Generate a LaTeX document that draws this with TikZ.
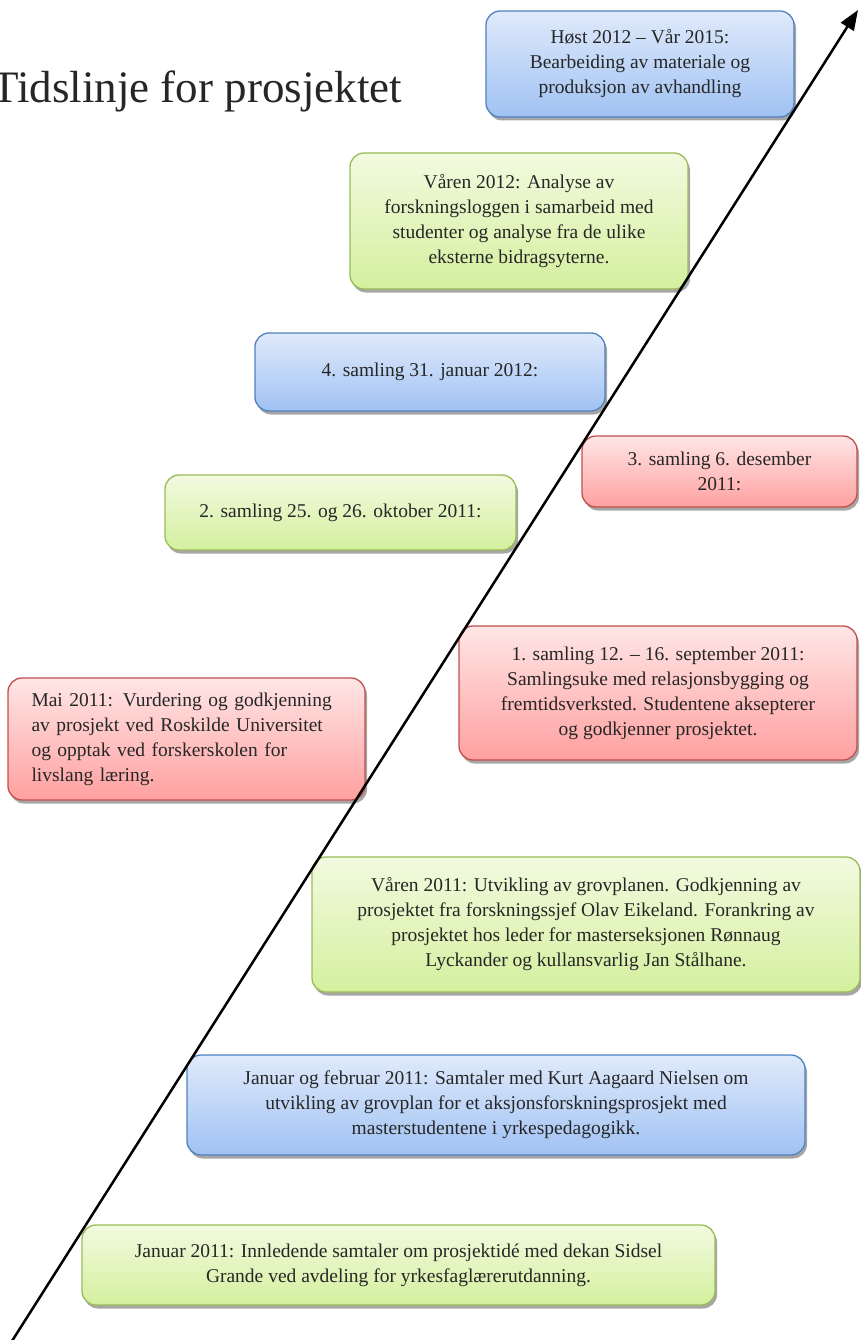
\documentclass[tikz,border=0pt]{standalone}
\usepackage{fontspec}
\setmainfont{Liberation Serif}
\usetikzlibrary{arrows.meta,shadows}
\definecolor{blueT}{RGB}{224,234,251}
\definecolor{blueB}{RGB}{160,194,243}
\definecolor{blueL}{RGB}{79,129,189}
\definecolor{greenT}{RGB}{242,250,224}
\definecolor{greenB}{RGB}{212,240,158}
\definecolor{greenL}{RGB}{155,187,89}
\definecolor{redT}{RGB}{255,230,230}
\definecolor{redB}{RGB}{255,160,160}
\definecolor{redL}{RGB}{192,80,77}
\newcommand\boxfont{\fontsize{19.5}{25}\selectfont}
\tikzset{
  evbox/.style={rounded corners=14pt, line width=1.3pt, align=center, inner sep=0pt,
    font=\boxfont, text=black!85,
    drop shadow={shadow xshift=2pt, shadow yshift=-3.5pt, fill=black!50, opacity=0.7}},
  bluebox/.style={evbox, draw=blueL, top color=blueT, bottom color=blueB},
  greenbox/.style={evbox, draw=greenL, top color=greenT, bottom color=greenB},
  redbox/.style={evbox, draw=redL, top color=redT, bottom color=redB},
  timeline/.style={line width=2.5pt, -{Triangle[length=20pt,width=15pt]}}
}
\begin{document}
\begin{tikzpicture}[x=1pt,y=-1pt]
\useasboundingbox (0,0) rectangle (861,1340);
\node[anchor=base west, font=\fontsize{45}{50}\selectfont, text=black!85, inner sep=0pt] (title) at (-9,103) {Tidslinje for prosjektet};

\node[bluebox, minimum width=308pt, minimum height=106pt] (b1) at (640,64)
  {Høst 2012 – Vår 2015:\\Bearbeiding av materiale og\\produksjon av avhandling};
\node[greenbox, minimum width=338pt, minimum height=136pt] (b2) at (519,221)
  {Våren 2012: Analyse av\\forskningsloggen i samarbeid med\\studenter og analyse fra de ulike\\eksterne bidragsyterne.};
\node[bluebox, minimum width=350pt, minimum height=78pt] (b3) at (430,372)
  {4. samling 31. januar 2012:};
\node[redbox, minimum width=275pt, minimum height=71pt] (b4) at (719.5,471.5)
  {3. samling 6. desember\\2011:};
\node[greenbox, minimum width=351pt, minimum height=75pt] (b5) at (340.5,512.5)
  {2. samling 25. og 26. oktober 2011:};
\node[redbox, minimum width=398pt, minimum height=134pt] (b6) at (658,693)
  {1. samling 12. – 16. september 2011:\\Samlingsuke med relasjonsbygging og\\fremtidsverksted. Studentene aksepterer\\og godkjenner prosjektet.};
\node[redbox, minimum width=357pt, minimum height=122pt, text width=310pt, align=left] (b7) at (186.5,739)
  {\makebox[\linewidth][s]{Mai 2011: Vurdering og godkjenning}\\
   \makebox[\linewidth][s]{av prosjekt ved Roskilde Universitet}\\
   \makebox[\linewidth][s]{og opptak ved forskerskolen for}\\
   livslang læring.};
\node[greenbox, minimum width=548pt, minimum height=135pt] (b8) at (586,924.5)
  {Våren 2011: Utvikling av grovplanen. Godkjenning av\\prosjektet fra forskningssjef Olav Eikeland. Forankring av\\prosjektet hos leder for masterseksjonen Rønnaug\\Lyckander og kullansvarlig Jan Stålhane.};
\node[bluebox, minimum width=618pt, minimum height=100pt] (b9) at (496,1105)
  {Januar og februar 2011: Samtaler med Kurt Aagaard Nielsen om\\utvikling av grovplan for et aksjonsforskningsprosjekt med\\masterstudentene i yrkespedagogikk.};
\node[greenbox, minimum width=633pt, minimum height=80pt] (b10) at (398.5,1265)
  {Januar 2011: Innledende samtaler om prosjektidé med dekan Sidsel\\Grande ved avdeling for yrkesfaglærerutdanning.};

\coordinate (tstart) at (12,1341);
\coordinate (tend) at (858,10);
\draw[timeline] (tstart) -- (tend);
\end{tikzpicture}
\end{document}
